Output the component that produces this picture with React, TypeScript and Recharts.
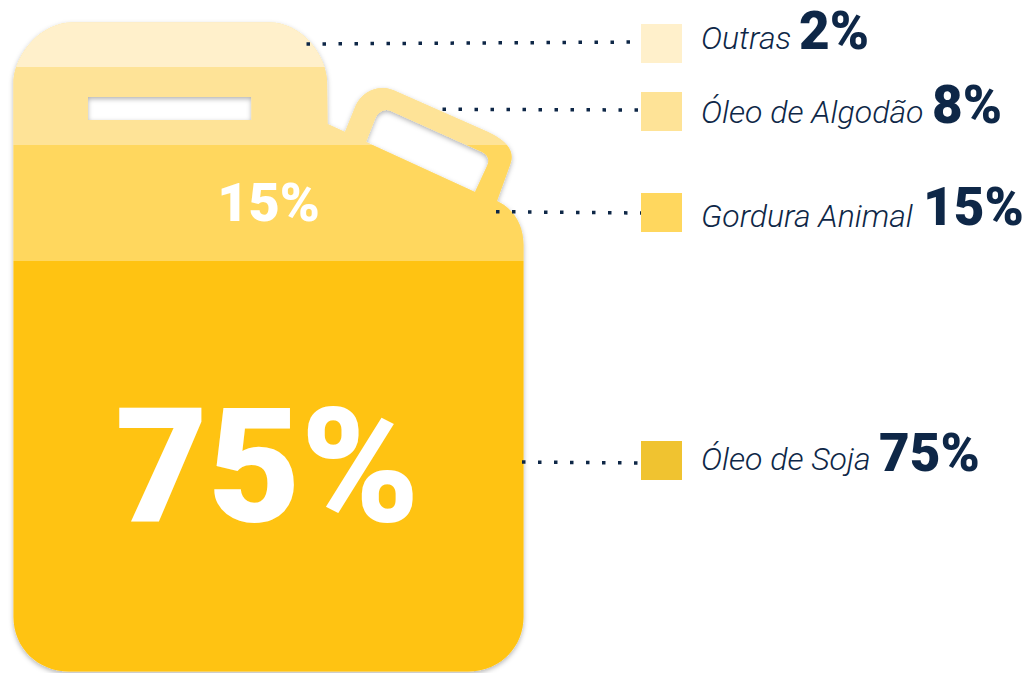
import { BarChart, Bar, XAxis, YAxis, LabelList } from 'recharts';

// bottom to top, the way the bars stack
const categories = ['Óleo de Soja', 'Gordura Animal', 'Óleo de Algodão', 'Outras'];
const shares = [75, 15, 8, 2];
// the drawing is not to scale: band heights as measured on the can
const bandHeights = [411, 116, 78, 45];
const bandColors = ['#ffc312', '#ffd75e', '#fee397', '#fff0cb'];
const swatchColors = ['#f0c330', '#ffd75e', '#fee397', '#fff0cb'];

const chartRow: Record<string, string | number> = { name: 'Galão' };
categories.forEach((c, i) => {
  chartRow[c] = bandHeights[i];
});

// legend layout, same order as categories
const swatchTop = [441, 193, 92, 24];
const nameBaseline = [470, 227, 123, 49];
const valueBaseline = [471, 225, 123, 49];
const valueX = [879, 923, 932, 799];
const leaders = [
  [522, 462, 641, 463],
  [496, 211.7, 641, 213],
  [442.5, 109.3, 641, 110],
  [306.5, 44, 641, 42],
];

const NAVY = '#0e2747';
const FONT = 'Roboto, sans-serif';

const canOutline =
  'M13.5 80 C16 52 42 22.5 72 22.5 L270 22.5 C300 22.5 325 52 327 80 L327.5 124 L345 132 L356 105 ' +
  'C362 92 378 84 393 90 L488 132 C505 140 516 150 510 165 L497 201 C514 209 523.5 225 523.5 245 ' +
  'L523.5 617 C523.5 648 499 671.5 468 671.5 L69 671.5 C38 671.5 13.5 648 13.5 617 Z';
const spoutHole = 'M366 142 L375 119 C378 112 384 108 391 111 L482 152 C488 155 490 160 487 166 L475 192 Z';
const handleHole = 'M88 97 H251.5 V120 H88 Z';
const canPath = `${canOutline} ${spoutHole} ${handleHole}`;

const ClippedBand = (props: any) => (
  <rect
    x={props.x}
    y={props.y}
    width={props.width}
    height={props.height}
    fill={props.fill}
    clipPath="url(#can-clip)"
  />
);

const bandLabel = (text: string, fontSize: number, dx: number, dy: number) => (props: any) => {
  const { x, y, width, height } = props;
  return (
    <text
      x={x + width / 2 + dx}
      y={y + height / 2 + dy}
      textAnchor="middle"
      fill="#ffffff"
      fontFamily={FONT}
      fontWeight={900}
      fontSize={fontSize}
    >
      {text}
    </text>
  );
};

export default function App() {
  return (
    <div style={{ position: 'absolute', left: 0, top: 0, width: 1027, height: 673 }}>
      <BarChart
        width={1027}
        height={673}
        data={[chartRow]}
        margin={{ top: 22, right: 503, bottom: 1, left: 13 }}
        barCategoryGap={0}
      >
        <defs>
          <clipPath id="can-clip">
            <path d={canPath} clipRule="evenodd" />
          </clipPath>
          <filter id="can-shadow" x="-5%" y="-5%" width="110%" height="110%">
            <feDropShadow dx="0" dy="2" stdDeviation="2.5" floodColor="#000000" floodOpacity="0.3" />
          </filter>
        </defs>
        <path d={canPath} fillRule="evenodd" fill="#fee397" filter="url(#can-shadow)" />
        <XAxis dataKey="name" hide />
        <YAxis type="number" domain={[0, 650]} hide />
        {categories.map((c, i) => (
          <Bar
            key={c}
            dataKey={c}
            stackId="can"
            fill={bandColors[i]}
            shape={ClippedBand}
            isAnimationActive={false}
          >
            {i === 0 && <LabelList content={bandLabel(`${shares[0]}%`, 160, -1, 54)} />}
            {i === 1 && <LabelList content={bandLabel(`${shares[1]}%`, 54, 0, 18)} />}
          </Bar>
        ))}
        {categories.map((c, i) => (
          <g key={c}>
            <rect x={641} y={swatchTop[i]} width={41} height={39} fill={swatchColors[i]} />
            <text
              x={701}
              y={nameBaseline[i]}
              fill={NAVY}
              fontFamily={FONT}
              fontStyle="italic"
              fontWeight={300}
              fontSize={32}
            >
              {c}
            </text>
            <text
              x={valueX[i]}
              y={valueBaseline[i]}
              fill={NAVY}
              fontFamily={FONT}
              fontWeight={900}
              fontSize={53}
            >
              {`${shares[i]}%`}
            </text>
          </g>
        ))}
      </BarChart>
      {/* bars sit on their own layer, so the dotted leaders go in an overlay to stay on top */}
      <svg width={1027} height={673} style={{ position: 'absolute', left: 0, top: 0 }}>
        {leaders.map((l, i) => (
          <line
            key={i}
            x1={l[0]}
            y1={l[1]}
            x2={l[2]}
            y2={l[3]}
            stroke={NAVY}
            strokeWidth={3.5}
            strokeDasharray="3.5 12.5"
          />
        ))}
      </svg>
    </div>
  );
}
